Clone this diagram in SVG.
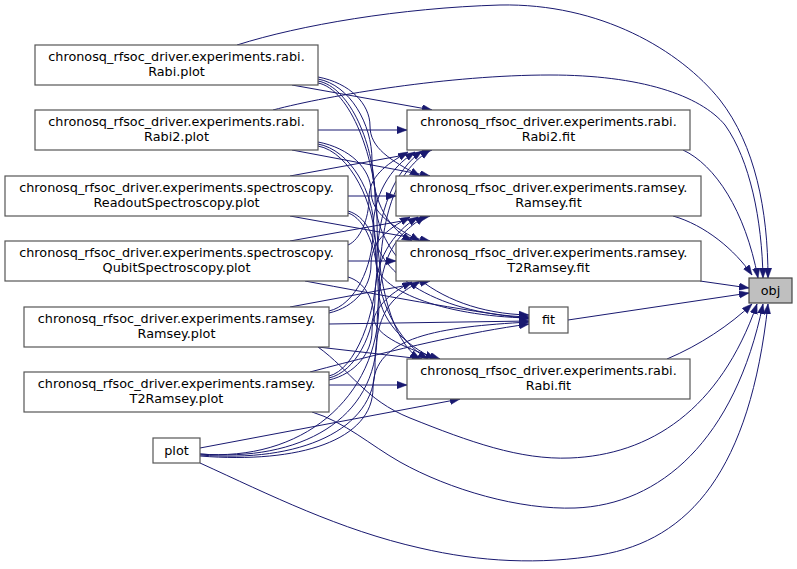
<svg xmlns="http://www.w3.org/2000/svg" width="797" height="569" viewBox="0 0 797 569">
<style>
.n rect{fill:#ffffff;stroke:#555555;stroke-width:1.2}
#obj rect{fill:#bfbfbf;stroke:#444444}
text{font-family:"DejaVu Sans","Liberation Sans",sans-serif;font-size:12.8px;fill:#000000;text-anchor:middle}
.e path{fill:none;stroke:#191970;stroke-width:1;marker-end:url(#ah)}
</style>
<defs>
<marker id="ah" markerUnits="userSpaceOnUse" markerWidth="11" markerHeight="8" refX="10" refY="3.7" orient="auto">
<path d="M0,0 L10,3.7 L0,7.4 z" fill="#191970" stroke="#191970" stroke-width="0.5"/>
</marker>
</defs>
<rect width="797" height="569" fill="#ffffff"/>
<g class="e" id="edges">
<!-- to obj -->
<path d="M237,45 C300,25 400,8 500,5 C600,3 680,50 720,100 C755,145 768,210 768,278"/>
<path d="M273,110 C330,95 450,75 550,75 C640,75 700,95 725,125 C750,160 762,220 763,278"/>
<path d="M683,150 C715,165 745,210 758,278"/>
<path d="M673,216 C705,225 735,250 752,275"/>
<path d="M700,281 L749,288"/>
<path d="M568,320 L749,293"/>
<path d="M667,359 C700,345 730,325 752,304"/>
<path d="M318,347 C350,370 365,400 410,418 C470,442 520,460 570,458 C650,455 720,410 757,304"/>
<path d="M312,412 C345,422 370,445 400,462 C450,490 520,510 575,508 C660,505 735,440 763,304"/>
<path d="M200,463 C270,495 340,530 420,548 C480,562 540,565 600,555 C690,540 750,470 768,304"/>
<!-- to Rabi2.fit -->
<path d="M292,85 L432,110"/>
<path d="M318,130 L407,130"/>
<path d="M290,176 L432,150"/>
<path d="M348,245 C360,240 369,219 369,198 S385,165 408,152"/>
<path d="M329,311 C355,305 373,267 373,231 S390,168 415,152"/>
<path d="M329,376 C355,370 377,314 377,263 S395,170 422,151"/>
<path d="M200,454 C300,462 379,400 379,302 S400,170 430,150"/>
<!-- to Ramsey.fit -->
<path d="M318,77 C350,83 370,104 370,126 S390,160 420,176"/>
<path d="M292,150 L430,176"/>
<path d="M348,196 L396,196"/>
<path d="M290,241 L430,216"/>
<path d="M329,313 C355,307 371,287 371,265 S385,230 410,217"/>
<path d="M329,378 C355,372 375,334 375,297 S392,233 418,217"/>
<path d="M200,454 C300,462 377,420 377,335 S398,235 425,216"/>
<!-- to T2Ramsey.fit -->
<path d="M318,79 C350,85 372,124 372,160 S384,226 412,241"/>
<path d="M318,142 C350,148 371,169 371,191 S392,226 420,241"/>
<path d="M290,216 L430,241"/>
<path d="M348,261 L396,261"/>
<path d="M290,307 L430,281"/>
<path d="M329,380 C355,374 372,353 372,331 S388,294 412,282"/>
<path d="M200,455 C300,463 375,430 375,368 S395,297 420,281"/>
<!-- to fit -->
<path d="M318,81 C350,87 375,145 375,198 S430,313 529,315"/>
<path d="M318,144 C350,150 374,192 374,230 S430,314 529,317"/>
<path d="M348,211 C365,216 376,235 376,262 S440,316 529,318"/>
<path d="M305,281 C380,295 460,310 529,319"/>
<path d="M329,324 L529,321"/>
<path d="M310,372 C400,348 470,332 529,324"/>
<path d="M200,456 C300,464 373,440 373,388 S440,327 529,322"/>
<!-- to Rabi.fit -->
<path d="M318,83 C350,89 377,159 377,220 S392,342 420,359"/>
<path d="M318,146 C350,152 376,204 376,252 S398,342 428,359"/>
<path d="M348,213 C365,218 378,250 378,285 S405,345 435,359"/>
<path d="M348,277 C365,282 374,300 374,318 S410,350 440,359"/>
<path d="M318,347 L422,359"/>
<path d="M329,385 L407,385"/>
<path d="M200,448 L460,399"/>
</g>
<g class="n" id="rabi_plot"><rect x="35" y="45" width="283" height="40"/><text x="176.5" y="61">chronosq_rfsoc_driver.experiments.rabi.</text><text x="176.5" y="76">Rabi.plot</text></g>
<g class="n" id="rabi2_plot"><rect x="35" y="110" width="283" height="40"/><text x="176.5" y="126">chronosq_rfsoc_driver.experiments.rabi.</text><text x="176.5" y="141">Rabi2.plot</text></g>
<g class="n" id="readout_plot"><rect x="5" y="176" width="343" height="40"/><text x="176.5" y="192">chronosq_rfsoc_driver.experiments.spectroscopy.</text><text x="176.5" y="207">ReadoutSpectroscopy.plot</text></g>
<g class="n" id="qubit_plot"><rect x="5" y="241" width="343" height="40"/><text x="176.5" y="257">chronosq_rfsoc_driver.experiments.spectroscopy.</text><text x="176.5" y="272">QubitSpectroscopy.plot</text></g>
<g class="n" id="ramsey_plot"><rect x="24" y="307" width="305" height="40"/><text x="176.5" y="323">chronosq_rfsoc_driver.experiments.ramsey.</text><text x="176.5" y="338">Ramsey.plot</text></g>
<g class="n" id="t2ramsey_plot"><rect x="24" y="372" width="305" height="40"/><text x="176.5" y="388">chronosq_rfsoc_driver.experiments.ramsey.</text><text x="176.5" y="403">T2Ramsey.plot</text></g>
<g class="n" id="plot"><rect x="153" y="438" width="47" height="25"/><text x="176.5" y="455">plot</text></g>
<g class="n" id="rabi2_fit"><rect x="407" y="110" width="283" height="40"/><text x="548.5" y="126">chronosq_rfsoc_driver.experiments.rabi.</text><text x="548.5" y="141">Rabi2.fit</text></g>
<g class="n" id="ramsey_fit"><rect x="396" y="176" width="305" height="40"/><text x="548.5" y="192">chronosq_rfsoc_driver.experiments.ramsey.</text><text x="548.5" y="207">Ramsey.fit</text></g>
<g class="n" id="t2ramsey_fit"><rect x="396" y="241" width="305" height="40"/><text x="548.5" y="257">chronosq_rfsoc_driver.experiments.ramsey.</text><text x="548.5" y="272">T2Ramsey.fit</text></g>
<g class="n" id="fit"><rect x="529" y="307" width="39" height="26"/><text x="548.5" y="324">fit</text></g>
<g class="n" id="rabi_fit"><rect x="407" y="359" width="283" height="40"/><text x="548.5" y="375">chronosq_rfsoc_driver.experiments.rabi.</text><text x="548.5" y="390">Rabi.fit</text></g>
<g class="n" id="obj"><rect x="749" y="278" width="43" height="25"/><text x="770.5" y="295">obj</text></g>
</svg>
